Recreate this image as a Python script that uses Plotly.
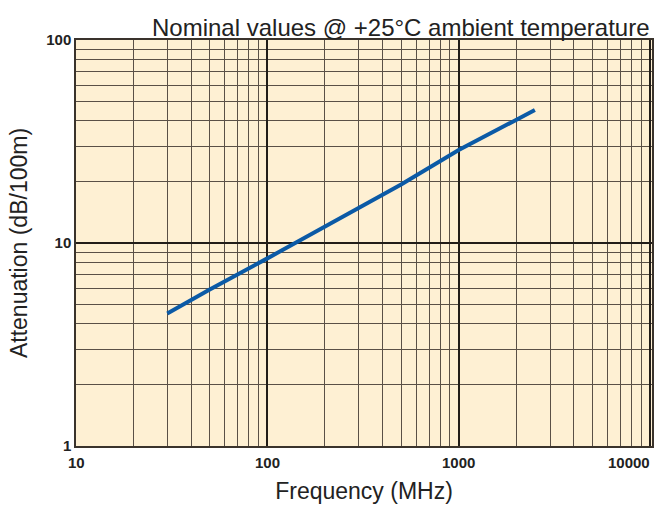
import numpy as np
import plotly.graph_objects as go

# Cable attenuation curve (nominal values @ +25°C)
freq_mhz = [30, 50, 100, 200, 500, 1000, 2000, 2500]
atten_db = [4.5, 5.9, 8.4, 12.0, 19.4, 28.7, 40.6, 45.2]

x_decades = [10, 100, 1000, 10000]
x_labels = ["10", "100", "1000", "10000"]
y_decades = [1, 10, 100]
y_labels = ["1", "10", "100"]

x_minor = [m * d for d in [10, 100, 1000] for m in range(2, 10)]
y_minor = [m * d for d in [1, 10] for m in range(2, 10)]

fig = go.Figure()
fig.add_trace(go.Scatter(
    x=freq_mhz, y=atten_db, mode="lines",
    line=dict(color="#0B5AA6", width=4),
    hoverinfo="skip", showlegend=False,
))

grid_major = "#221d18"
grid_minor = "#5a5046"
tick_font = dict(family="Liberation Sans, Arial, sans-serif", size=15, color="#222222")

fig.update_layout(
    width=656, height=506,
    margin=dict(l=76, r=2, t=40, b=60),
    paper_bgcolor="white",
    plot_bgcolor="#FEF0D3",
    font=dict(family="Liberation Sans, Arial, sans-serif", color="#222222"),
    xaxis=dict(
        type="log", range=[1, 4.01],
        tickvals=x_decades, showticklabels=False,
        showgrid=True, gridcolor=grid_major, gridwidth=1.5,
        minor=dict(tickvals=x_minor, showgrid=True, gridcolor=grid_minor, gridwidth=1),
        showline=True, mirror=True, linecolor="#3a332c", linewidth=1.5,
        zeroline=False, ticks="",
        title=dict(text="Frequency (MHz)", font=dict(size=23, color="#222222"), standoff=36),
    ),
    yaxis=dict(
        type="log", range=[0, 2],
        tickvals=y_decades, ticktext=[f"<b>{t}</b>" for t in y_labels],
        tickfont=tick_font,
        showgrid=True, gridcolor=grid_major, gridwidth=1.5,
        minor=dict(tickvals=y_minor, showgrid=True, gridcolor=grid_minor, gridwidth=1),
        showline=True, mirror=True, linecolor="#3a332c", linewidth=1.5,
        zeroline=False, ticks="",
        title=dict(text="Attenuation (dB/100m)", font=dict(size=23, color="#222222"), standoff=12),
    ),
)

# Frequency decade labels under the x axis
for v, t in zip(x_decades, x_labels):
    last = v == x_decades[-1]
    fig.add_annotation(
        x=np.log10(v) if not last else 1, xref="x" if not last else "paper",
        y=0, yref="paper", yanchor="top", yshift=-6,
        xanchor="right" if last else "center",
        text=f"<b>{t}</b>", showarrow=False, font=tick_font,
    )

# Chart heading and subheading above the plot
fig.add_annotation(
    x=1.0, xref="paper", y=1.0, yref="paper", yanchor="bottom", xanchor="right",
    yshift=-3, text="Nominal values @ +25°C ambient temperature", showarrow=False,
    font=dict(size=24, color="#222222"),
)
fig.add_annotation(
    x=0.985, xref="paper", y=1.0, yref="paper", yanchor="bottom", xanchor="right",
    yshift=33, text="<b>Cable Attenuation</b>", showarrow=False,
    font=dict(size=24, color="#222222"),
)

fig.write_html("out.html")
